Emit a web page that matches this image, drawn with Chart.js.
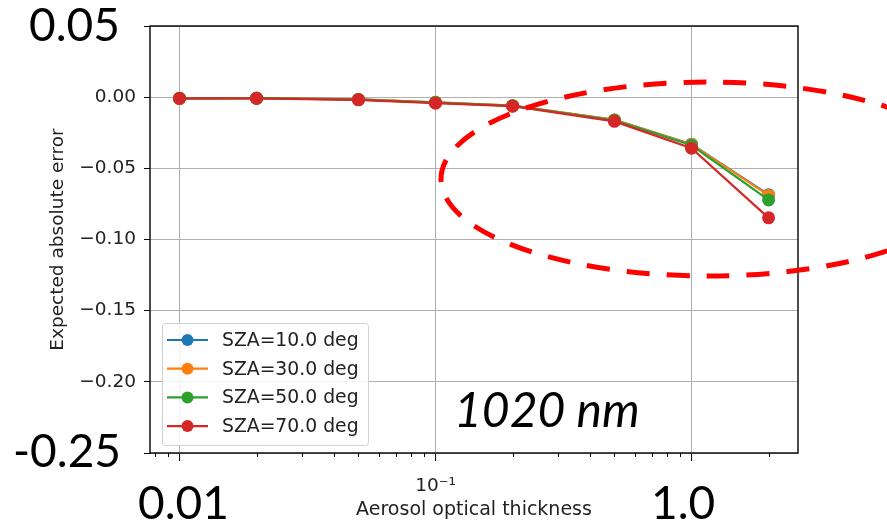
<!DOCTYPE html>
<html>
<head>
<meta charset="utf-8">
<script src="https://cdn.jsdelivr.net/npm/chart.js@4"></script>
<style>
  body { margin: 0; background: #fff; }
  #wrap { position: relative; width: 887px; height: 523px; overflow: hidden; }
  .big { position: absolute; font-family: Lato, "Liberation Sans", sans-serif; font-size: 46px; line-height: 1; color: #000; white-space: nowrap; }
</style>
</head>
<body>
<div id="wrap">
  <canvas id="chart" width="887" height="523"></canvas>
  <div class="big" style="left:29px; top:1px;">0.05</div>
  <div class="big" style="left:13px; top:427px;">-0.25</div>
  <div class="big" style="left:138px; top:479px;">0.01</div>
  <div class="big" style="left:651px; top:479px;">1.0</div>
  <div class="big" style="left:454px; top:385px; font-size:48px; font-style:italic;">1020 nm</div>
</div>
<script>
// aerosol optical thickness (x) and expected absolute error per solar zenith angle
const aot = [0.01, 0.02, 0.05, 0.1, 0.2, 0.5, 1.0, 2.0];
const sza10 = [-0.0008, -0.0007, -0.0016, -0.0036, -0.0060, -0.0160, -0.0330, -0.0685];
const sza30 = [-0.0008, -0.0007, -0.0016, -0.0036, -0.0060, -0.0160, -0.0332, -0.0690];
const sza50 = [-0.0008, -0.0007, -0.0017, -0.0038, -0.0061, -0.0162, -0.0338, -0.0722];
const sza70 = [-0.0009, -0.0008, -0.0019, -0.0042, -0.0063, -0.0170, -0.0359, -0.0848];
const seriesLabels = ['SZA=10.0 deg', 'SZA=30.0 deg', 'SZA=50.0 deg', 'SZA=70.0 deg'];
const colors = ['#1f77b4', '#ff7f0e', '#2ca02c', '#d62728'];

const yTicks = [0.05, 0, -0.05, -0.10, -0.15, -0.20, -0.25];
const xMajor = [0.01, 0.1, 1];
const xMinor = [0.008, 0.009, 0.02, 0.03, 0.04, 0.05, 0.06, 0.07, 0.08, 0.09,
                0.2, 0.3, 0.4, 0.5, 0.6, 0.7, 0.8, 0.9, 2];

const allSeries = [sza10, sza30, sza50, sza70];
const datasets = allSeries.map((vals, i) => ({
    label: seriesLabels[i],
    data: vals.map((v, j) => ({ x: aot[j], y: v })),
    borderColor: colors[i],
    backgroundColor: colors[i],
    pointBackgroundColor: colors[i],
    pointBorderWidth: 0,
    pointRadius: 6.5,
    borderWidth: 2.2,
    tension: 0,
    order: allSeries.length - 1 - i   // last series drawn on top, like matplotlib
}));

const txt = '#222';
const tickFont = { family: 'DejaVu Sans', size: 18.5 };

// frame, minor ticks, legend box and the dashed highlight
const extras = {
    id: 'extras',
    beforeDatasetsDraw(chart) {
        const { ctx, chartArea: a, scales } = chart;
        ctx.save();
        ctx.strokeStyle = '#000';
        ctx.lineWidth = 1;
        xMinor.forEach(v => {
            const px = Math.round(scales.x.getPixelForValue(v)) + 0.5;
            ctx.beginPath();
            ctx.moveTo(px, a.bottom);
            ctx.lineTo(px, a.bottom + 4);
            ctx.stroke();
        });
        ctx.lineWidth = 1.4;
        ctx.strokeRect(a.left, a.top, a.right - a.left, a.bottom - a.top);
        ctx.restore();
    },
    afterDatasetsDraw(chart) {
        const { ctx, chartArea: a, scales } = chart;
        ctx.save();
        // legend
        const bx = a.left + 12, bw = 206, bh = 122, by = a.bottom - 8 - bh;
        ctx.fillStyle = 'rgba(255,255,255,0.85)';
        ctx.strokeStyle = '#d0d0d0';
        ctx.lineWidth = 1;
        ctx.beginPath();
        ctx.roundRect(bx + 0.5, by + 0.5, bw, bh, 3);
        ctx.fill();
        ctx.stroke();
        ctx.font = '18.8px "DejaVu Sans"';
        ctx.textBaseline = 'middle';
        chart.data.datasets.forEach((ds, i) => {
            const cy = by + 17 + i * 28.7;
            ctx.strokeStyle = ds.borderColor;
            ctx.lineWidth = 2.2;
            ctx.beginPath();
            ctx.moveTo(bx + 5, cy);
            ctx.lineTo(bx + 46, cy);
            ctx.stroke();
            ctx.fillStyle = ds.borderColor;
            ctx.beginPath();
            ctx.arc(bx + 25.5, cy, 6, 0, Math.PI * 2);
            ctx.fill();
            ctx.fillStyle = txt;
            ctx.fillText(ds.label, bx + 60, cy + 1);
        });
        // dashed ellipse
        const cx = scales.x.getPixelForValue(1.16);
        const cy = scales.y.getPixelForValue(-0.0575);
        ctx.strokeStyle = '#ff0000';
        ctx.lineWidth = 5;
        ctx.setLineDash([23, 17]);
        ctx.beginPath();
        ctx.ellipse(cx, cy, 267, 97, 0, 0, Math.PI * 2);
        ctx.stroke();
        ctx.restore();
    }
};

new Chart(document.getElementById('chart'), {
    type: 'line',
    data: { datasets: datasets },
    options: {
        responsive: false,
        animation: false,
        layout: { padding: { left: 0, right: 89, top: 26, bottom: 0 } },
        plugins: { legend: { display: false }, tooltip: { enabled: false } },
        scales: {
            x: {
                type: 'logarithmic',
                min: 0.00767,
                max: 2.606,
                afterBuildTicks: s => { s.ticks = xMajor.map(v => ({ value: v })); },
                afterFit: s => { s.height = 70; },
                ticks: {
                    autoSkip: false,
                    maxRotation: 0,
                    padding: 14,
                    color: txt,
                    font: tickFont,
                    callback: v => Math.abs(v - 0.1) < 1e-9 ? '10⁻¹' : ''
                },
                grid: { color: '#b0b0b0', lineWidth: 1, tickLength: 8, tickColor: '#000' },
                border: { display: false },
                title: {
                    display: true,
                    text: 'Aerosol optical thickness',
                    color: txt,
                    font: { family: 'DejaVu Sans', size: 19 },
                    padding: { top: 0, bottom: 2 }
                }
            },
            y: {
                type: 'linear',
                min: -0.25,
                max: 0.05,
                afterBuildTicks: s => { s.ticks = yTicks.map(v => ({ value: v })); },
                afterFit: s => { s.width = 150; },
                ticks: {
                    padding: 8,
                    color: txt,
                    font: tickFont,
                    callback: v => {
                        if (Math.abs(v - 0.05) < 1e-9 || Math.abs(v + 0.25) < 1e-9) return '';
                        if (Math.abs(v) < 1e-9) return '0.00';
                        return (v < 0 ? '\u2212' : '') + Math.abs(v).toFixed(2);
                    }
                },
                grid: { color: '#b0b0b0', lineWidth: 1, tickLength: 6, tickColor: '#000' },
                border: { display: false },
                title: {
                    display: true,
                    text: 'Expected absolute error',
                    color: txt,
                    font: { family: 'DejaVu Sans', size: 18.5 },
                    padding: { top: 47, bottom: 0 }
                }
            }
        }
    },
    plugins: [extras]
});
</script>
</body>
</html>
